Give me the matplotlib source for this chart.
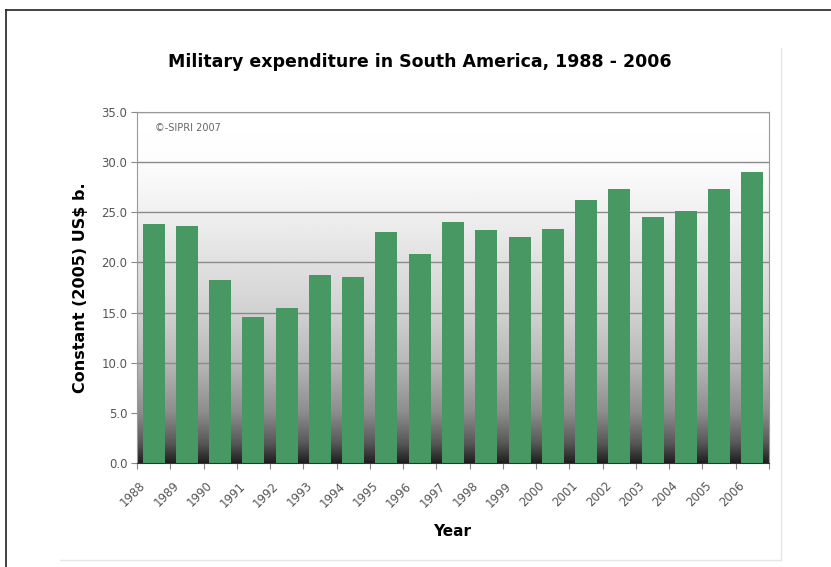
import numpy as np
import matplotlib
matplotlib.use("Agg")
import matplotlib.pyplot as plt
from matplotlib.lines import Line2D

years = [str(y) for y in range(1988, 2007)]
spending = [23.8, 23.65, 18.2, 14.6, 15.5, 18.7, 18.55, 23.0, 20.8, 24.0,
            23.2, 22.5, 23.35, 26.25, 27.35, 24.5, 25.1, 27.35, 29.05]
yticks = [0, 5, 10, 15, 20, 25, 30, 35]

W, H = 831, 567
fig = plt.figure(figsize=(W / 100, H / 100), dpi=100)
fig.patch.set_facecolor("white")

ax = fig.add_axes([137 / W, 1 - 463 / H, (769 - 137) / W, (463 - 112) / H])
x = np.arange(len(years))

# gray-to-black background gradient (white above 30)
lev = np.linspace(0, 35, 400)
shade = np.interp(lev, [0, 2, 5, 10, 15, 20, 25, 30, 35],
                  [0.12, 0.35, 0.55, 0.72, 0.82, 0.88, 0.94, 0.99, 1.0])
img = np.repeat(shade[::-1, None], 2, axis=1)
ax.imshow(img, cmap="gray", vmin=0, vmax=1, aspect="auto",
          extent=[-0.5, len(years) - 0.5, 0, 35], zorder=0, interpolation="bilinear")

for v in yticks[1:]:
    ax.axhline(v, color="#8a8a8a", lw=1.0, zorder=1)

ax.bar(x, spending, width=0.66, color="#489863", zorder=2)

ax.set_xlim(-0.5, len(years) - 0.5)
ax.set_ylim(0, 35)

ax.set_yticks(yticks)
ax.set_yticklabels(["%.1f" % v for v in yticks], fontsize=8.5, color="#555555")
ax.set_xticks(np.arange(-0.5, len(years)), labels=[])
# labels sit a little left of the bar centres, as in the original
ax.set_xticks(x - 0.3, minor=True)
ax.set_xticklabels(years, minor=True, rotation=45, ha="right", va="center",
                   rotation_mode="anchor", fontsize=8.5, color="#555555")
ax.tick_params(axis="x", which="major", length=4, color="#888888")
ax.tick_params(axis="x", which="minor", length=0, pad=15)
ax.tick_params(axis="y", length=4, color="#888888", pad=3)

for s in ["left", "right", "top"]:
    ax.spines[s].set_color("#999999")
ax.spines["bottom"].set_color("#333333")

ax.set_ylabel("Constant (2005) US$ b.", fontsize=11.5, fontweight="bold")
ax.yaxis.set_label_coords((88 - 137) / (769 - 137), 0.5)
fig.text(452 / W, 1 - 531 / H, "Year", fontsize=11, fontweight="bold",
         ha="center", va="center")
fig.text(420 / W, 1 - 62 / H, "Military expenditure in South America, 1988 - 2006",
         fontsize=12.5, fontweight="bold", ha="center", va="center")
ax.text(155 / W, 1 - 128 / H, "\u00a9-SIPRI 2007", transform=fig.transFigure,
        fontsize=7, color="#666666", ha="left", va="center")

# frame lines
def px_line(x0, y0, x1, y1, color, lw):
    fig.add_artist(Line2D([x0 / W, x1 / W], [1 - y0 / H, 1 - y1 / H],
                          color=color, lw=lw, transform=fig.transFigure))

px_line(6, 10, 6, H, "#222222", 1.2)
px_line(6, 10, W, 10, "#222222", 1.2)
px_line(781, 48, 781, 560, "#e6e6e6", 1.0)
px_line(60, 560, 781, 560, "#e6e6e6", 1.0)

fig.savefig("out.png", dpi=100)
